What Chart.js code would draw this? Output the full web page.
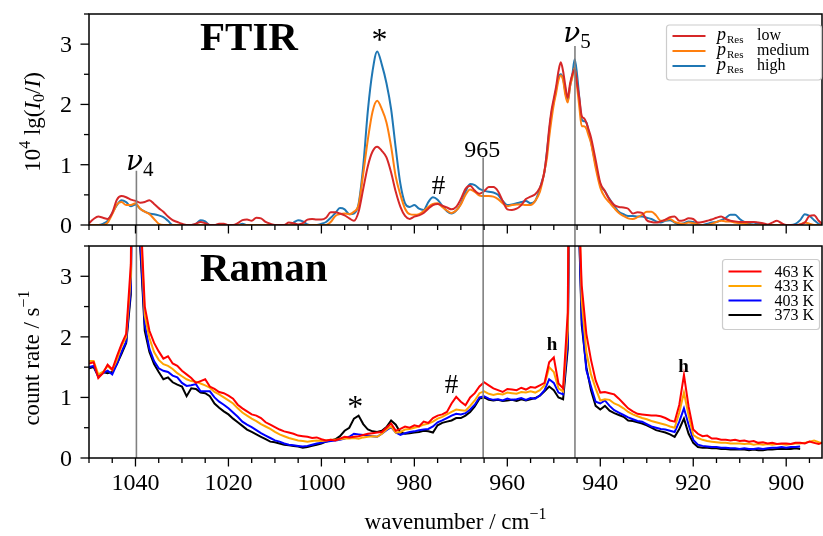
<!DOCTYPE html>
<html>
<head>
<meta charset="utf-8">
<script src="https://cdn.jsdelivr.net/npm/chart.js@4.4.1/dist/chart.umd.min.js"></script>
<style>
  body { margin: 0; background: #fff; }
  .box { position: absolute; left: 0; width: 823px; }
</style>
</head>
<body>
<div class="box" style="top:0;height:236px"><canvas id="ftir"></canvas></div>
<div class="box" style="top:236px;height:300px"><canvas id="raman"></canvas></div>
<script>
// ---- data ----
const ftirX = [
  1050,1049,1048,1047,1046,1045,1044,1043,1042,1041,
  1040,1039,1038,1037,1036,1035,1034,1033,1032,1031,
  1030,1029,1028,1027,1026,1025,1024,1023,1022,1021,
  1020,1019,1018,1017,1016,1015,1014,1013,1012,1011,
  1010,1009,1008,1007,1006,1005,1004,1003,1002,1001,
  1000,999,998,997,996,995,994,993,992,991,
  990,989,988,987,986,985,984,983,982,981,
  980,979,978,977,976,975,974,973,972,971,
  970,969,968,967,966,965,964,963,962,961,
  960,959,958,957,956,955,954,953,
  952.5,952,951.5,951,950.5,950,949.5,949,948.5,948,947.5,947,946.5,946,945.5,945,944.5,944,943.5,943,942.5,942,
  941,940,939,938,937,936,935,934,933,932,
  931,930,929,928,927,926,925,924,923,922,
  921,920,919,918,917,916,915,914,913,912,
  911,910,909,908,907,906,905,904,903,902,
  901,900,899,898,897,896,895,894,893,892
];
const ftirLow = [
  0.03,0.10,0.14,0.12,0.10,0.20,0.42,0.48,0.46,0.42,
  0.40,0.37,0.38,0.41,0.35,0.28,0.22,0.14,0.08,0.05,
  0.02,0,0,0.02,0.05,0.03,0,0,0.02,0.02,
  0,0,0.03,0.08,0.09,0.07,0.12,0.11,0.05,0.02,
  0,0,0,0.04,0.03,0.01,0.03,0.09,0.10,0.09,
  0.09,0.12,0.21,0.21,0.19,0.16,0.11,0.07,0.22,0.60,
  0.98,1.22,1.30,1.23,1.12,0.87,0.55,0.30,0.15,0.10,
  0.14,0.16,0.20,0.27,0.33,0.35,0.32,0.29,0.26,0.30,
  0.43,0.60,0.65,0.57,0.52,0.56,0.63,0.63,0.56,0.40,
  0.26,0.25,0.27,0.33,0.43,0.47,0.51,0.62,
  0.72,0.90,1.20,1.60,1.90,2.10,2.30,2.55,2.70,2.55,2.30,2.11,2.35,2.50,2.58,2.35,2.10,1.81,1.77,1.70,1.58,1.45,
  1.08,0.70,0.56,0.42,0.33,0.30,0.29,0.27,0.19,0.21,
  0.20,0.08,0.05,0.04,0.06,0.09,0.13,0.14,0.07,0.08,
  0.11,0.10,0.04,0.05,0.07,0.09,0.12,0.14,0.10,0.07,
  0.06,0.05,0.05,0.05,0.05,0.04,0.03,0.01,0.04,0.07,
  0.03,0,0,0,0.01,0.04,0.15,0.16,0.07,0
];
const ftirMedium = [
  0,0,0,0,0.04,0.18,0.34,0.38,0.33,0.33,
  0.36,0.27,0.22,0.18,0.10,0.02,0,0,0,0,
  0,0,0,0,0,0,0,0,0,0,
  0,0,0,0,0,0,0,0,0,0,
  0,0,0,0,0,0,0,0,0,0,
  0,0,0.05,0.15,0.18,0.19,0.18,0.22,0.33,0.85,
  1.42,1.88,2.06,1.92,1.70,1.30,0.80,0.50,0.27,0.18,
  0.17,0.18,0.23,0.30,0.35,0.36,0.30,0.24,0.20,0.24,
  0.34,0.50,0.59,0.55,0.49,0.48,0.48,0.47,0.43,0.36,
  0.31,0.33,0.34,0.34,0.33,0.33,0.40,0.55,
  0.70,0.90,1.10,1.45,1.75,2.00,2.19,2.40,2.48,2.40,2.15,2.03,2.30,2.45,2.61,2.30,1.95,1.64,1.64,1.60,1.48,1.36,
  0.95,0.62,0.46,0.37,0.28,0.20,0.15,0.11,0.10,0.13,
  0.17,0.22,0.22,0.16,0.07,0.08,0.10,0.05,0.03,0.02,
  0.04,0.03,0.01,0,0,0.02,0.05,0.07,0.06,0.06,
  0.04,0.03,0.02,0.01,0,0,0,0,0,0,
  0,0,0,0,0.01,0.04,0.02,0,0,0
];
const ftirHigh = [
  0,0,0,0.02,0.07,0.20,0.33,0.41,0.38,0.31,
  0.34,0.27,0.22,0.19,0.18,0.16,0.13,0.07,0,0,
  0,0,0,0.02,0.08,0.06,0,0,0,0,
  0,0,0,0.02,0,0,0,0,0,0,
  0,0,0,0,0.04,0.08,0.06,0.01,0,0,
  0.02,0.05,0.12,0.20,0.28,0.26,0.18,0.19,0.35,0.98,
  1.90,2.55,2.88,2.66,2.35,1.92,1.27,0.68,0.36,0.30,
  0.33,0.27,0.25,0.38,0.46,0.42,0.32,0.23,0.19,0.24,
  0.35,0.55,0.68,0.66,0.60,0.57,0.55,0.54,0.50,0.40,
  0.33,0.34,0.36,0.38,0.40,0.36,0.40,0.60,
  0.74,0.88,1.20,1.55,1.85,2.05,2.25,2.45,2.50,2.42,2.20,2.06,2.30,2.50,2.75,2.50,2.10,1.75,1.72,1.70,1.55,1.38,
  1.00,0.67,0.56,0.43,0.32,0.22,0.18,0.15,0.15,0.14,
  0.14,0.12,0.10,0.06,0.04,0.07,0.08,0.04,0.01,0.03,
  0.06,0.05,0.01,0,0.02,0.04,0.05,0.08,0.12,0.17,
  0.17,0.10,0.05,0.03,0.04,0.02,0.01,0,0,0,
  0,0,0,0.02,0.08,0.18,0.15,0.08,0.02,0
];

const ramanX = [
  1050,1049,1048,1047,1046,1045,1044,1043,1042,1041,
  1040,1039,1038,1037,1036,1035,1034,1033,1032,1031,
  1030,1029,1028,1027,1026,1025,1024,1023,1022,1021,
  1020,1019,1018,1017,1016,1015,1014,1013,1012,1011,
  1010,1009,1008,1007,1006,1005,1004,1003,1002,1001,
  1000,999,998,997,996,995,994,993,992,991,
  990,989,988,987,986,985,984,983,982,981,
  980,979,978,977,976,975,974,973,972,971,
  970,969,968,967,966,965,964,963,962,961,
  960,959,958,957,956,955,954,953,952,951,
  950,949,948,947,946,945,944,943,942,941,
  940,939,938,937,936,935,934,933,932,931,
  930,929,928,927,926,925,924,923,922,921,
  920,919,918,917,916,915,914,913,912,911,
  910,909,908,907,906,905,904,903,902,901,
  900,899,898,897,896,895,894,893,892
];
const raman463 = [
  1.56,1.58,1.32,1.40,1.54,1.46,1.68,1.88,2.05,3.20,
  12.0,4.2,2.50,2.10,1.90,1.76,1.64,1.68,1.56,1.52,
  1.44,1.38,1.32,1.24,1.27,1.30,1.18,1.14,1.09,1.07,
  1.03,0.98,0.88,0.82,0.77,0.72,0.70,0.66,0.59,0.55,
  0.51,0.47,0.44,0.42,0.40,0.37,0.36,0.35,0.33,0.34,
  0.31,0.29,0.30,0.29,0.32,0.35,0.34,0.35,0.36,0.38,
  0.40,0.41,0.42,0.43,0.50,0.57,0.45,0.48,0.52,0.50,
  0.54,0.52,0.60,0.58,0.66,0.70,0.72,0.76,0.90,1.01,
  0.93,0.87,1.00,1.07,1.18,1.25,1.20,1.15,1.12,1.09,
  1.14,1.13,1.12,1.16,1.13,1.17,1.16,1.20,1.24,1.58,
  1.66,1.23,1.15,2.40,12.0,5.0,2.85,2.05,1.62,1.28,
  1.08,1.09,1.07,1.05,0.98,0.90,0.82,0.77,0.73,0.72,
  0.71,0.70,0.70,0.69,0.66,0.62,0.60,0.88,1.37,0.85,
  0.47,0.40,0.36,0.37,0.32,0.32,0.30,0.30,0.29,0.30,
  0.28,0.29,0.27,0.28,0.25,0.26,0.24,0.25,0.23,0.24,
  0.24,0.23,0.25,0.25,0.24,0.27,0.25,0.23,0.26
];
const raman433 = [
  1.60,1.60,1.38,1.42,1.52,1.45,1.62,1.85,2.00,3.00,
  11.0,4.0,2.35,1.98,1.75,1.62,1.55,1.52,1.47,1.40,
  1.35,1.30,1.27,1.26,1.23,1.20,1.16,1.09,1.05,1.00,
  0.95,0.90,0.82,0.75,0.70,0.65,0.61,0.56,0.52,0.48,
  0.43,0.39,0.36,0.33,0.31,0.29,0.28,0.27,0.28,0.29,
  0.28,0.29,0.30,0.30,0.31,0.32,0.32,0.33,0.32,0.34,
  0.35,0.36,0.35,0.40,0.47,0.52,0.42,0.43,0.47,0.48,
  0.50,0.52,0.55,0.57,0.60,0.65,0.68,0.72,0.76,0.80,
  0.79,0.78,0.86,0.95,1.07,1.10,1.06,1.04,1.06,1.05,
  1.08,1.07,1.06,1.09,1.08,1.10,1.08,1.12,1.20,1.50,
  1.42,1.15,1.10,2.10,11.0,5.5,2.60,1.75,1.38,1.15,
  0.95,0.97,0.96,0.90,0.87,0.82,0.76,0.72,0.69,0.66,
  0.64,0.61,0.59,0.57,0.55,0.52,0.50,0.75,1.08,0.70,
  0.38,0.33,0.30,0.28,0.27,0.26,0.25,0.25,0.24,0.24,
  0.24,0.23,0.24,0.22,0.23,0.22,0.23,0.22,0.23,0.23,
  0.22,0.23,0.24,0.24,0.25,0.27,0.29,0.26,0.24
];
const raman403 = [
  1.50,1.52,1.34,1.40,1.44,1.38,1.55,1.75,1.92,2.80,
  10.0,3.6,2.20,1.80,1.60,1.48,1.44,1.42,1.36,1.33,
  1.24,1.19,1.20,1.22,1.10,1.10,1.10,1.00,0.93,0.88,
  0.82,0.75,0.68,0.60,0.55,0.51,0.46,0.41,0.37,0.33,
  0.29,0.27,0.24,0.22,0.21,0.20,0.19,0.20,0.22,0.24,
  0.25,0.27,0.28,0.29,0.30,0.32,0.35,0.40,0.39,0.38,
  0.37,0.36,0.35,0.40,0.46,0.51,0.42,0.38,0.41,0.43,
  0.44,0.46,0.47,0.48,0.52,0.59,0.62,0.66,0.70,0.73,
  0.72,0.74,0.80,0.88,1.00,1.02,0.98,0.96,0.97,0.95,
  0.98,0.96,0.97,0.99,0.96,0.99,0.98,1.03,1.12,1.30,
  1.24,1.08,1.05,1.90,10.0,5.0,2.30,1.45,1.18,0.93,
  0.90,0.95,0.86,0.79,0.75,0.71,0.67,0.64,0.61,0.60,
  0.56,0.52,0.50,0.48,0.47,0.45,0.43,0.60,0.82,0.55,
  0.30,0.22,0.20,0.19,0.18,0.18,0.17,0.17,0.16,0.16,
  0.15,0.16,0.15,0.15,0.16,0.15,0.16,0.17,0.17,0.18,
  0.17,0.18,0.18,0.19,null,null,null,null,null
];
const raman373 = [
  1.48,1.50,1.35,1.42,1.40,1.42,1.55,1.72,1.90,2.70,
  10.0,3.5,2.10,1.75,1.55,1.42,1.30,1.33,1.25,1.21,
  1.18,1.02,1.15,1.14,1.08,1.07,1.02,0.90,0.83,0.77,
  0.72,0.65,0.59,0.53,0.47,0.43,0.39,0.35,0.31,0.27,
  0.26,0.24,0.22,0.21,0.20,0.19,0.17,0.18,0.20,0.22,
  0.24,0.27,0.29,0.31,0.36,0.45,0.50,0.65,0.70,0.56,
  0.47,0.44,0.43,0.45,0.51,0.62,0.55,0.42,0.40,0.41,
  0.42,0.43,0.45,0.44,0.42,0.54,0.58,0.60,0.62,0.66,
  0.66,0.70,0.76,0.85,0.98,1.00,0.96,0.95,0.96,0.94,
  0.95,0.96,0.94,0.97,0.95,0.97,0.99,1.03,1.10,1.18,
  1.12,1.00,0.97,1.80,10.0,5.0,2.20,1.50,1.12,0.86,
  0.80,0.86,0.78,0.74,0.71,0.68,0.62,0.61,0.59,0.57,
  0.54,0.50,0.46,0.44,0.42,0.39,0.35,0.48,0.65,0.40,
  0.25,0.18,0.17,0.17,0.16,0.16,0.15,0.15,0.14,0.14,
  0.14,0.14,0.13,0.14,0.13,0.13,0.14,0.14,0.15,0.15,
  0.15,0.15,0.16,0.15,null,null,null,null,null
];

const xTickLabels = [1040, 1020, 1000, 980, 960, 940, 920, 900];
const yTickLabels = [0, 1, 2, 3];
const ftirLegend = ['low', 'medium', 'high'];
const ramanLegend = ['463 K', '433 K', '403 K', '373 K'];

const ftirColors = ['#d62728', '#ff7f0e', '#1f77b4'];
const ramanColors = ['#ff0000', '#ffa500', '#0000ff', '#000000'];

// ---- helpers ----
const SERIF = '"Liberation Serif", "DejaVu Serif", serif';
const GREEK = '"DejaVu Serif", serif';
function font(size, style) {
  return (style ? style + ' ' : '') + size + 'px ' + SERIF;
}

function pts(xs, ys) {
  return xs.map((x, i) => ({ x: x, y: ys[i] }));
}

// draw a run of text pieces (for sub/superscripts)
function drawRun(ctx, parts, x, y, align) {
  let w = 0;
  parts.forEach(p => { ctx.font = p.font; w += ctx.measureText(p.t).width; });
  let cx = align === 'center' ? x - w / 2 : (align === 'right' ? x - w : x);
  ctx.textAlign = 'left';
  ctx.textBaseline = 'alphabetic';
  parts.forEach(p => {
    ctx.font = p.font;
    ctx.fillText(p.t, cx, y + (p.dy || 0));
    cx += ctx.measureText(p.t).width;
  });
}

function panelPlugin(cfg) {
  return {
    id: 'panel',
    afterDatasetsDraw(chart) {
      const ctx = chart.ctx, xs = chart.scales.x, ys = chart.scales.y;
      ctx.save();
      ctx.strokeStyle = '#808080';
      ctx.lineWidth = 1.6;
      cfg.markers.forEach(m => {
        const px = xs.getPixelForValue(m.x);
        const top = m.top != null ? ys.getPixelForValue(m.top) : 0;
        const bottom = m.bottom != null ? ys.getPixelForValue(m.bottom) : chart.height;
        ctx.beginPath();
        ctx.moveTo(px, top);
        ctx.lineTo(px, bottom);
        ctx.stroke();
      });
      ctx.restore();
    },
    afterDraw(chart) {
      const ctx = chart.ctx, a = chart.chartArea, xs = chart.scales.x, ys = chart.scales.y;
      ctx.save();
      ctx.fillStyle = '#000';
      ctx.strokeStyle = '#000';

      // frame
      ctx.lineWidth = 1.5;
      ctx.strokeRect(a.left, a.top, a.right - a.left, a.bottom - a.top);

      // x ticks (major every 20, minor every 5)
      ctx.lineWidth = 1.3;
      for (let v = 895; v <= 1050; v += 5) {
        const px = xs.getPixelForValue(v);
        const len = v % 20 === 0 ? 8.5 : 5;
        ctx.beginPath();
        ctx.moveTo(px, a.bottom);
        ctx.lineTo(px, a.bottom + len);
        ctx.stroke();
      }
      // y ticks (major every 1, minor every 0.5)
      for (let v = 0; v <= 3.5; v += 0.5) {
        const py = ys.getPixelForValue(v);
        const len = v % 1 === 0 ? 8.5 : 5;
        ctx.beginPath();
        ctx.moveTo(a.left, py);
        ctx.lineTo(a.left - len, py);
        ctx.stroke();
      }
      // y tick labels
      ctx.font = font(24);
      ctx.textAlign = 'right';
      ctx.textBaseline = 'alphabetic';
      yTickLabels.forEach(v => {
        ctx.fillText(String(v), a.left - 17, ys.getPixelForValue(v) + 8);
      });
      // x tick labels
      if (cfg.xLabels) {
        ctx.textAlign = 'center';
        xTickLabels.forEach(v => {
          ctx.fillText(String(v), xs.getPixelForValue(v), a.bottom + 32);
        });
        drawRun(ctx, [
          { t: 'wavenumber / cm', font: font(23) },
          { t: '\u22121', font: font(16), dy: -10 }
        ], (a.left + a.right) / 2, a.bottom + 71, 'center');
      }

      // y axis title (rotated)
      ctx.save();
      ctx.translate(cfg.yTitleX, cfg.yTitleY);
      ctx.rotate(-Math.PI / 2);
      drawRun(ctx, cfg.yTitle, 0, 0, 'center');
      ctx.restore();

      // panel title
      ctx.font = font(41, 'bold');
      ctx.textAlign = 'left';
      ctx.fillText(cfg.title, a.left + 111, a.top + cfg.titleDy);

      // annotations placed in data coordinates
      cfg.notes.forEach(n => {
        drawRun(ctx, n.parts, xs.getPixelForValue(n.x), ys.getPixelForValue(n.y), 'center');
      });

      // legend
      const L = cfg.legend;
      ctx.beginPath();
      ctx.roundRect(L.x, L.y, L.w, L.h, 3);
      ctx.fillStyle = 'rgba(255,255,255,0.85)';
      ctx.fill();
      ctx.strokeStyle = '#cccccc';
      ctx.lineWidth = 1.2;
      ctx.stroke();
      L.labels.forEach((lab, i) => {
        const ry = L.y + L.first + i * L.step;
        ctx.strokeStyle = L.colors[i];
        ctx.lineWidth = 2.2;
        ctx.beginPath();
        ctx.moveTo(L.x + 6, ry);
        ctx.lineTo(L.x + 39, ry);
        ctx.stroke();
        ctx.fillStyle = '#000';
        L.draw(ctx, lab, ry);
      });
      ctx.restore();
    }
  };
}

function lineDataset(label, xs, ys, color, smooth) {
  return {
    label: label,
    data: pts(xs, ys),
    borderColor: color,
    backgroundColor: color,
    borderWidth: 2,
    pointRadius: 0,
    fill: false,
    spanGaps: false,
    cubicInterpolationMode: smooth ? 'monotone' : 'default',
    tension: 0
  };
}

function baseOptions(padding) {
  return {
    responsive: true,
    maintainAspectRatio: false,
    devicePixelRatio: 1,
    animation: false,
    layout: { padding: padding },
    plugins: { legend: { display: false }, tooltip: { enabled: false } },
    scales: {
      x: { type: 'linear', reverse: true, min: 892.3, max: 1050, display: false },
      y: { type: 'linear', min: 0, max: 3.5, display: false }
    }
  };
}

const markerX = [1039.8, 965.2, 945.45];
const nu = size => ({ t: '\u03bd', font: 'italic ' + size + 'px ' + GREEK });

// ---- FTIR panel ----
new Chart(document.getElementById('ftir'), {
  type: 'line',
  data: {
    datasets: [
      lineDataset('low', ftirX, ftirLow, ftirColors[0], true),
      lineDataset('medium', ftirX, ftirMedium, ftirColors[1], true),
      lineDataset('high', ftirX, ftirHigh, ftirColors[2], true)
    ]
  },
  options: baseOptions({ left: 89, right: 1, top: 14, bottom: 11 }),
  plugins: [panelPlugin({
    xLabels: false,
    title: 'FTIR',
    titleDy: 36,
    yTitleX: 40,
    yTitleY: 122,
    yTitle: [
      { t: '10', font: font(23) },
      { t: '4', font: font(16), dy: -10 },
      { t: ' lg(', font: font(23) },
      { t: 'I', font: font(23, 'italic') },
      { t: '0', font: font(16), dy: 4 },
      { t: '/', font: font(23) },
      { t: 'I', font: font(23, 'italic') },
      { t: ')', font: font(23) }
    ],
    markers: [
      { x: markerX[0], top: 0.9 },
      { x: markerX[1], top: 1.12 },
      { x: markerX[2], top: 2.97 }
    ],
    notes: [
      { x: 1039.1, y: 0.92, parts: [nu(28), { t: '4', font: font(21), dy: 6 }] },
      { x: 987.5, y: 2.9, parts: [{ t: '*', font: font(32) }] },
      { x: 974.8, y: 0.52, parts: [{ t: '#', font: font(27) }] },
      { x: 965.4, y: 1.13, parts: [{ t: '965', font: font(24) }] },
      { x: 945.0, y: 3.03, parts: [nu(28), { t: '5', font: font(21), dy: 6 }] }
    ],
    legend: {
      x: 666.5, y: 25, w: 155, h: 55, first: 11, step: 15,
      labels: ftirLegend, colors: ftirColors,
      draw(ctx, lab, ry) {
        drawRun(ctx, [{ t: 'p', font: font(18, 'italic') }], 717, ry + 4, 'left');
        drawRun(ctx, [{ t: 'Res', font: font(11) }], 727, ry + 7, 'left');
        drawRun(ctx, [{ t: lab, font: font(16) }], 757, ry + 4, 'left');
      }
    }
  })]
});

// ---- Raman panel ----
new Chart(document.getElementById('raman'), {
  type: 'line',
  data: {
    datasets: [
      lineDataset('463 K', ramanX, raman463, ramanColors[0], false),
      lineDataset('433 K', ramanX, raman433, ramanColors[1], false),
      lineDataset('403 K', ramanX, raman403, ramanColors[2], false),
      lineDataset('373 K', ramanX, raman373, ramanColors[3], false)
    ]
  },
  options: baseOptions({ left: 89, right: 1, top: 10, bottom: 78 }),
  plugins: [panelPlugin({
    xLabels: true,
    title: 'Raman',
    titleDy: 35,
    yTitleX: 39,
    yTitleY: 122,
    yTitle: [
      { t: 'count rate / s', font: font(23) },
      { t: '\u22121', font: font(16), dy: -10 }
    ],
    markers: [
      { x: markerX[0], bottom: 0 },
      { x: markerX[1], bottom: 0 },
      { x: markerX[2], bottom: 0 }
    ],
    notes: [
      { x: 992.7, y: 0.68, parts: [{ t: '*', font: font(32) }] },
      { x: 972.0, y: 1.08, parts: [{ t: '#', font: font(27) }] },
      { x: 950.4, y: 1.79, parts: [{ t: 'h', font: font(19, 'bold') }] },
      { x: 922.1, y: 1.42, parts: [{ t: 'h', font: font(19, 'bold') }] }
    ],
    legend: {
      x: 722.5, y: 23.5, w: 97, h: 70, first: 12, step: 14.5,
      labels: ramanLegend, colors: ramanColors,
      draw(ctx, lab, ry) {
        drawRun(ctx, [{ t: lab, font: font(16) }], 814, ry + 5, 'right');
      }
    }
  })]
});
</script>
</body>
</html>
